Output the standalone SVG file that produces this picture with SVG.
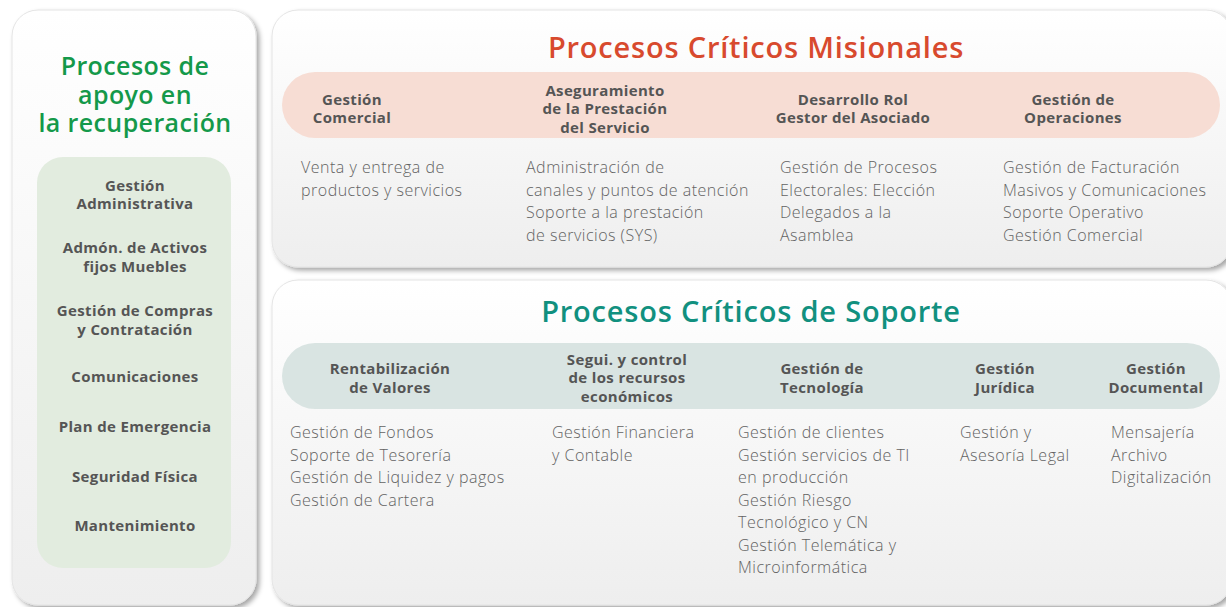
<svg xmlns="http://www.w3.org/2000/svg" width="1226" height="607" viewBox="0 0 1226 607">
<defs>
<linearGradient id="panelGrad" x1="0" y1="0" x2="0" y2="1">
<stop offset="0" stop-color="#ffffff"/>
<stop offset="1" stop-color="#eeeeee"/>
</linearGradient>
<filter id="shadow" x="-5%" y="-5%" width="112%" height="115%">
<feDropShadow dx="3" dy="3" stdDeviation="2.5" flood-color="#000" flood-opacity="0.35"/>
</filter>
<style>
.panel{fill:url(#panelGrad);stroke:#e4e4e4;stroke-width:1;filter:url(#shadow)}
.head{font-family:"Open Sans","Liberation Sans",sans-serif;font-weight:700;font-size:15px;letter-spacing:0.35px;fill:#555555;text-anchor:middle}
.body{font-family:"Open Sans","Liberation Sans",sans-serif;font-weight:300;font-size:16px;letter-spacing:0.5px;fill:#636363}
.left{font-family:"Open Sans","Liberation Sans",sans-serif;font-weight:700;font-size:15px;letter-spacing:0.35px;fill:#555555;text-anchor:middle}
.t1{font-family:"Open Sans","Liberation Sans",sans-serif;font-weight:600;font-size:25px;letter-spacing:0.4px;fill:#14994a;text-anchor:middle}
.t2{font-family:"Open Sans","Liberation Sans",sans-serif;font-weight:600;font-size:29px;letter-spacing:0.8px;text-anchor:middle}
</style>
</defs>
<rect width="1226" height="607" fill="#ffffff"/>

<g id="apoyo">
<rect class="panel" x="12" y="10" width="244" height="595" rx="26"/>
<text class="t1" x="135" y="75">Procesos de</text>
<text class="t1" x="135" y="104">apoyo en</text>
<text class="t1" x="135" y="132">la recuperación</text>
<rect x="37" y="157" width="194" height="411" rx="26" fill="#e2ecdf"/>
<text class="left" x="135" y="191">Gestión</text>
<text class="left" x="135" y="209">Administrativa</text>
<text class="left" x="135" y="253">Admón. de Activos</text>
<text class="left" x="135" y="272">fijos Muebles</text>
<text class="left" x="135" y="316">Gestión de Compras</text>
<text class="left" x="135" y="335">y Contratación</text>
<text class="left" x="135" y="382">Comunicaciones</text>
<text class="left" x="135" y="432">Plan de Emergencia</text>
<text class="left" x="135" y="482">Seguridad Física</text>
<text class="left" x="135" y="531">Mantenimiento</text>
</g>

<g id="misionales">
<rect class="panel" x="272" y="10" width="960" height="257" rx="26"/>
<text class="t2" x="756" y="58" fill="#d84a2e">Procesos Críticos Misionales</text>
<rect x="282" y="72" width="938" height="66" rx="33" fill="#f7ddd4"/>
<text class="head" x="352" y="105">Gestión</text>
<text class="head" x="352" y="123">Comercial</text>
<text class="head" x="605" y="96">Aseguramiento</text>
<text class="head" x="605" y="114">de la Prestación</text>
<text class="head" x="605" y="133">del Servicio</text>
<text class="head" x="853" y="105">Desarrollo Rol</text>
<text class="head" x="853" y="123">Gestor del Asociado</text>
<text class="head" x="1073" y="105">Gestión de</text>
<text class="head" x="1073" y="123">Operaciones</text>
<text class="body" x="301" y="173">Venta y entrega de</text>
<text class="body" x="301" y="196">productos y servicios</text>
<text class="body" x="526" y="173">Administración de</text>
<text class="body" x="526" y="196">canales y puntos de atención</text>
<text class="body" x="526" y="218">Soporte a la prestación</text>
<text class="body" x="526" y="241">de servicios (SYS)</text>
<text class="body" x="780" y="173">Gestión de Procesos</text>
<text class="body" x="780" y="196">Electorales: Elección</text>
<text class="body" x="780" y="218">Delegados a la</text>
<text class="body" x="780" y="241">Asamblea</text>
<text class="body" x="1003" y="173">Gestión de Facturación</text>
<text class="body" x="1003" y="196">Masivos y Comunicaciones</text>
<text class="body" x="1003" y="218">Soporte Operativo</text>
<text class="body" x="1003" y="241">Gestión Comercial</text>
</g>

<g id="soporte">
<rect class="panel" x="272" y="280" width="960" height="325" rx="26"/>
<text class="t2" x="751" y="322" fill="#11907f">Procesos Críticos de Soporte</text>
<rect x="282" y="343" width="938" height="66" rx="33" fill="#d9e4e2"/>
<text class="head" x="390" y="374">Rentabilización</text>
<text class="head" x="390" y="393">de Valores</text>
<text class="head" x="627" y="365">Segui. y control</text>
<text class="head" x="627" y="383">de los recursos</text>
<text class="head" x="627" y="402">económicos</text>
<text class="head" x="822" y="374">Gestión de</text>
<text class="head" x="822" y="393">Tecnología</text>
<text class="head" x="1005" y="374">Gestión</text>
<text class="head" x="1005" y="393">Jurídica</text>
<text class="head" x="1156" y="374">Gestión</text>
<text class="head" x="1156" y="393">Documental</text>
<text class="body" x="290" y="438">Gestión de Fondos</text>
<text class="body" x="290" y="461">Soporte de Tesorería</text>
<text class="body" x="290" y="483">Gestión de Liquidez y pagos</text>
<text class="body" x="290" y="506">Gestión de Cartera</text>
<text class="body" x="552" y="438">Gestión Financiera</text>
<text class="body" x="552" y="461">y Contable</text>
<text class="body" x="738" y="438">Gestión de clientes</text>
<text class="body" x="738" y="461">Gestión servicios de TI</text>
<text class="body" x="738" y="483">en producción</text>
<text class="body" x="738" y="506">Gestión Riesgo</text>
<text class="body" x="738" y="528">Tecnológico y CN</text>
<text class="body" x="738" y="551">Gestión Telemática y</text>
<text class="body" x="738" y="573">Microinformática</text>
<text class="body" x="960" y="438">Gestión y</text>
<text class="body" x="960" y="461">Asesoría Legal</text>
<text class="body" x="1111" y="438">Mensajería</text>
<text class="body" x="1111" y="461">Archivo</text>
<text class="body" x="1111" y="483">Digitalización</text>
</g>

<g id="connectors"/>
</svg>
